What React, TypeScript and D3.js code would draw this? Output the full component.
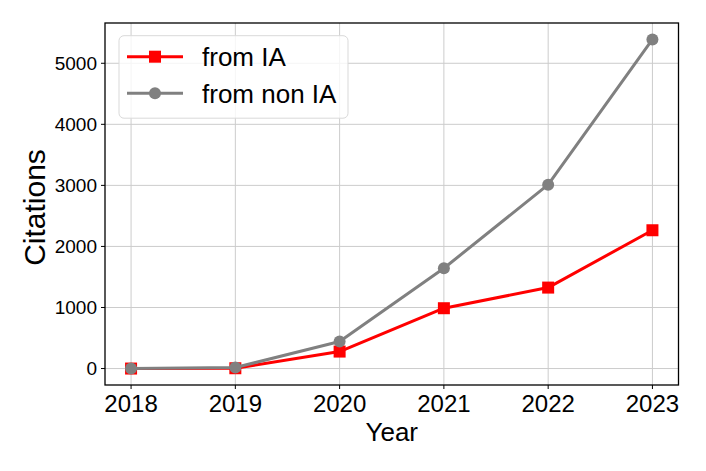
import React from "react";
import * as d3 from "d3";

const years = [2018, 2019, 2020, 2021, 2022, 2023];
const fromIA = [0, 5, 278, 988, 1326, 2265];
const fromNonIA = [0, 16, 442, 1643, 3012, 5390];
const yTicks = [0, 1000, 2000, 3000, 4000, 5000];
const seriesNames = ["from IA", "from non IA"];

const W = 706;
const H = 471;
const M = { left: 105, top: 23, right: 678.5, bottom: 385 };
const FONT = "'Liberation Sans', Arial, Helvetica, sans-serif";

export default function App() {
  const x = d3.scaleLinear().domain([2017.75, 2023.25]).range([M.left, M.right]);
  const yMax = 5390;
  const pad = yMax * 0.05;
  const y = d3.scaleLinear().domain([-pad, yMax + pad]).range([M.bottom, M.top]);
  const line = d3
    .line<number>()
    .x((_, i) => x(years[i]))
    .y((d) => y(d));

  return (
    <div style={{ position: "absolute", left: 0, top: 0 }}>
      <svg width={W} height={H} style={{ display: "block", background: "#fff" }} fontFamily={FONT}>
        {/* grid */}
        {years.map((yr) => (
          <line key={"gx" + yr} x1={x(yr)} x2={x(yr)} y1={M.top} y2={M.bottom} stroke="#cccccc" strokeWidth={1} />
        ))}
        {yTicks.map((t) => (
          <line key={"gy" + t} x1={M.left} x2={M.right} y1={y(t)} y2={y(t)} stroke="#cccccc" strokeWidth={1} />
        ))}
        {/* series */}
        <path d={line(fromIA) || ""} fill="none" stroke="#ff0000" strokeWidth={3} strokeLinejoin="round" />
        {fromIA.map((v, i) => (
          <rect key={"r" + i} x={x(years[i]) - 6} y={y(v) - 6} width={12} height={12} fill="#ff0000" />
        ))}
        <path d={line(fromNonIA) || ""} fill="none" stroke="#808080" strokeWidth={3} strokeLinejoin="round" />
        {fromNonIA.map((v, i) => (
          <circle key={"c" + i} cx={x(years[i])} cy={y(v)} r={6} fill="#808080" />
        ))}
        {/* frame */}
        <rect x={M.left} y={M.top} width={M.right - M.left} height={M.bottom - M.top} fill="none" stroke="#000" strokeWidth={1.3} />
        {/* x ticks */}
        {years.map((yr) => (
          <g key={"xt" + yr}>
            <line x1={x(yr)} x2={x(yr)} y1={M.bottom} y2={M.bottom + 4} stroke="#000" strokeWidth={1} />
            <text x={x(yr)} y={411.5} textAnchor="middle" fontSize={24} fill="#000">
              {yr}
            </text>
          </g>
        ))}
        {/* y ticks */}
        {yTicks.map((t) => (
          <g key={"yt" + t}>
            <line x1={M.left - 4} x2={M.left} y1={y(t)} y2={y(t)} stroke="#000" strokeWidth={1} />
            <text x={97} y={y(t)} dy="0.36em" textAnchor="end" fontSize={19} fill="#000">
              {t}
            </text>
          </g>
        ))}
        {/* axis labels */}
        <text x={(M.left + M.right) / 2} y={441} textAnchor="middle" fontSize={26} fill="#000">
          Year
        </text>
        <text transform={`translate(45,207.5) rotate(-90)`} textAnchor="middle" fontSize={30} fill="#000">
          Citations
        </text>
        {/* legend */}
        <rect x={119} y={35.7} width={229} height={82.5} rx={5} fill="#fff" fillOpacity={0.8} stroke="#d9d9d9" strokeWidth={1} />
        <line x1={127} x2={183} y1={56.7} y2={56.7} stroke="#ff0000" strokeWidth={3} />
        <rect x={149} y={50.7} width={12} height={12} fill="#ff0000" />
        <text x={202} y={56.7} dy="0.36em" fontSize={26} fill="#000">
          {seriesNames[0]}
        </text>
        <line x1={127} x2={183} y1={93.3} y2={93.3} stroke="#808080" strokeWidth={3} />
        <circle cx={155} cy={93.3} r={6} fill="#808080" />
        <text x={202} y={93.3} dy="0.36em" fontSize={26} fill="#000">
          {seriesNames[1]}
        </text>
      </svg>
    </div>
  );
}
